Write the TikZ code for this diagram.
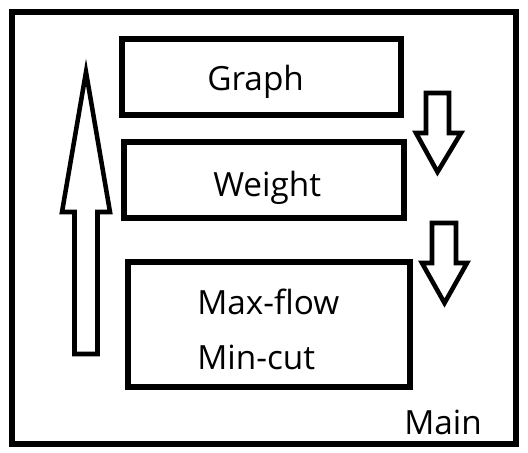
\documentclass[tikz,border=0pt]{standalone}
\usepackage{fontspec}
\setmainfont{Open Sans}
\begin{document}
\begin{tikzpicture}[x=0.75pt,y=-0.75pt,
  boxstyle/.style={draw=black, line width=3.8pt, fill=white, inner sep=0pt},
  txt/.style={anchor=base west, inner sep=0pt, font=\fontsize{25}{30}\selectfont},
  blockarrow/.style={draw=black, line width=3.4pt, fill=white, line join=miter}]
\useasboundingbox (0,0) rectangle (528,453);
% outer frame
\node[boxstyle, minimum width=504*0.75pt, minimum height=432*0.75pt] (main) at (264,228) {};
% boxes
\node[boxstyle, minimum width=279*0.75pt, minimum height=76*0.75pt] (graph) at (261.5,77) {};
\node[boxstyle, minimum width=280*0.75pt, minimum height=76*0.75pt] (weight) at (264,180) {};
\node[boxstyle, minimum width=282*0.75pt, minimum height=125*0.75pt] (flow) at (269,324.5) {};
% texts
\node[txt] (tgraph) at (207,90.5) {Graph};
\node[txt] (tweight) at (213,196) {Weight};
\node[txt] (tmax) at (197,314) {Max-flow};
\node[txt] (tmin) at (197,369) {Min-cut};
\node[txt] (tmain) at (404,434) {Main};
% left up arrow
\draw[blockarrow] (74.5,354) -- (74.5,212) -- (62,212) -- (86,72) -- (110,212) -- (97.5,212) -- (97.5,354) -- cycle;
% right down arrows
\draw[blockarrow] (426,93) -- (449,93) -- (449,133) -- (461,133) -- (437.5,172) -- (416,133) -- (426,133) -- cycle;
\draw[blockarrow] (432,223) -- (456,223) -- (456,263) -- (467,263) -- (444.5,303) -- (422,263) -- (432,263) -- cycle;
\end{tikzpicture}
\end{document}
